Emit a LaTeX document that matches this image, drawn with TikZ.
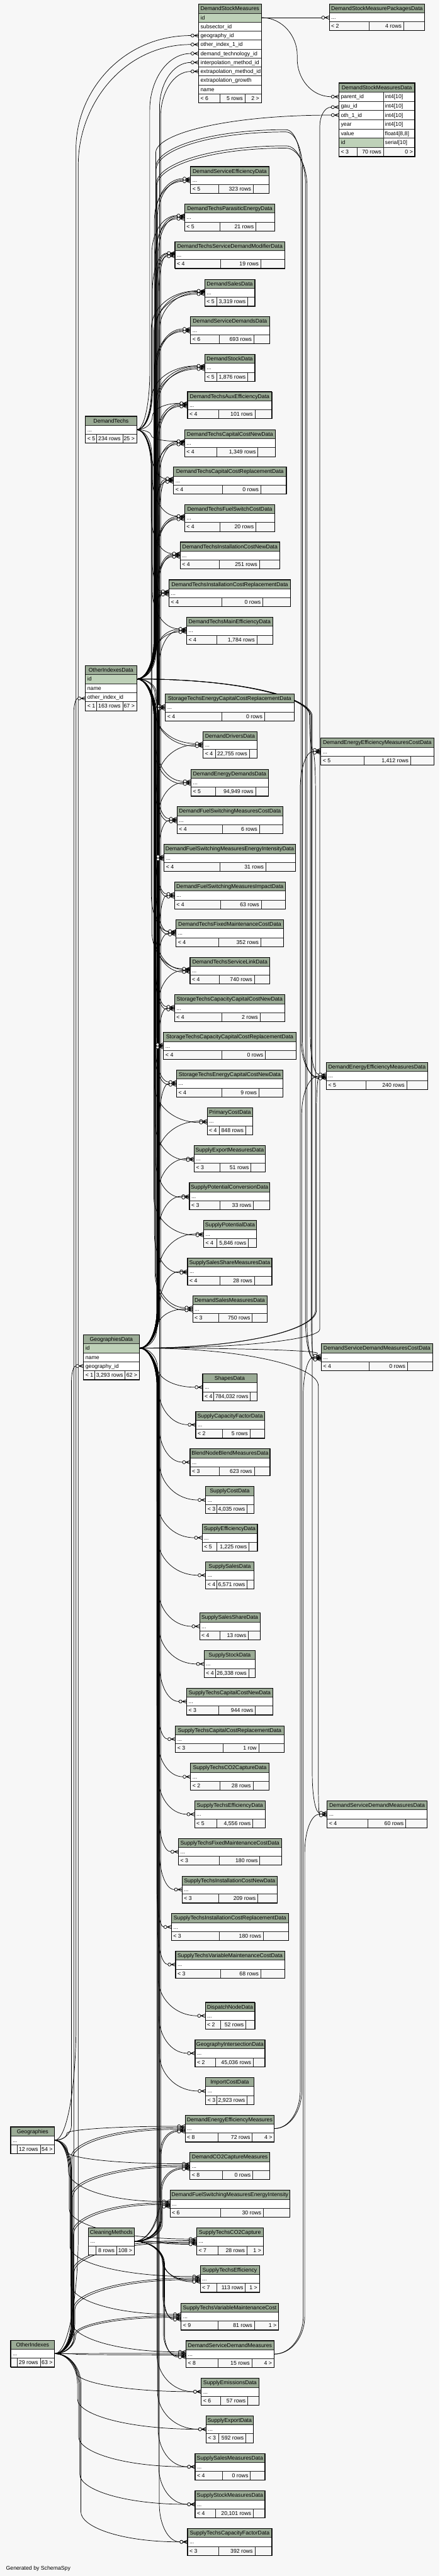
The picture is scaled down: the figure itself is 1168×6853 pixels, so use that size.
\documentclass[tikz,border=0pt]{standalone}
\usepackage{fontspec}
\setmainfont{Liberation Sans}
\definecolor{bgc}{HTML}{F7F7F7}
\definecolor{headc}{HTML}{9BAB96}
\definecolor{keyc}{HTML}{BED1B8}
\tikzset{
  fkline/.style={line width=0.6pt, black},
  cellbox/.style={draw=black!85, line width=0.45pt},
  tableframe/.style={draw=black, line width=0.7pt},
  focusframe/.style={draw=black, line width=1.3pt},
  celltext/.style={inner sep=0pt, font=\fontsize{7.3}{8.8}\selectfont},
}
\begin{document}
\begin{tikzpicture}[x=0.5pt,y=-0.5pt]

\fill[bgc] (0,0) rectangle (1168,6853);
\useasboundingbox (0,0) rectangle (1168,6853);

% spline from a parent port: out horizontally, along a bundle, in horizontally
\newcommand\fkline[7]{%
  \pgfmathsetmacro\fpx{#2}\pgfmathsetmacro\fpy{#3}\pgfmathsetmacro\fbx{#4}%
  \pgfmathsetmacro\fex{#5}\pgfmathsetmacro\fey{#6}%
  \pgfmathsetmacro\fsg{sign(\fey-\fpy)}%
  \pgfmathsetmacro\frr{min(abs(\fey-\fpy)/2,#7)}%
  \pgfmathsetmacro\fya{\fpy+(\fsg)*\frr}%
  \pgfmathsetmacro\fyb{\fey-(\fsg)*\frr}%
  \pgfmathsetmacro\fca{\fpx+0.6*(\fbx-\fpx)}%
  \pgfmathsetmacro\fcb{\fpy+0.5*(\fsg)*\frr}%
  \pgfmathsetmacro\fcc{\fyb+0.5*(\fsg)*\frr}%
  \pgfmathsetmacro\fcd{\fbx+0.4*(\fex-\fbx)}%
  \draw[fkline] (#1) .. controls (\fca,\fpy) and (\fbx,\fcb) .. (\fbx,\fya) -- (\fbx,\fyb) .. controls (\fbx,\fcc) and (\fcd,\fey) .. (\fex,\fey);
}
% zero-or-many end at a child table
\newcommand\fkmark[2]{%
  \pgfmathsetmacro\mxa{#1-16}\pgfmathsetmacro\mxb{#1-11.8}\pgfmathsetmacro\mxc{#1}%
  \pgfmathsetmacro\mya{#2}\pgfmathsetmacro\myb{#2-4.6}\pgfmathsetmacro\myc{#2+4.6}%
  \draw[fkline,fill=bgc] (\mxa,\mya) circle[radius=4.2];
  \draw[fkline] (\mxb,\mya) -- (\mxc,\myb) (\mxb,\mya) -- (\mxc,\mya) (\mxb,\mya) -- (\mxc,\myc);
}
\newcommand\fk[5]{%
  \fkline{#1}{\csname #1x\endcsname}{\csname #1y\endcsname}{#2}{#3-20.2}{#4}{#5}%
  \fkmark{#3}{#4}}

% table with collapsed columns
\newcommand\erdtable[9]{%
  \pgfmathsetmacro\tya{#5+23.85}\pgfmathsetmacro\tyb{#5+47.7}\pgfmathsetmacro\tyc{#5+71.55}%
  \pgfmathsetmacro\tmid{(#1+#4)/2}\pgfmathsetmacro\tla{#1+5}\pgfmathsetmacro\tlb{#3-5}\pgfmathsetmacro\tlc{#4-5}%
  \pgfmathsetmacro\tba{#5+17.1}\pgfmathsetmacro\tbb{\tya+17.1}\pgfmathsetmacro\tbc{\tyb+17.1}%
  \filldraw[cellbox,fill=headc] (#1,#5) rectangle (#4,\tya);
  \filldraw[cellbox,fill=white] (#1,\tya) rectangle (#4,\tyb);
  \filldraw[cellbox,fill=bgc] (#1,\tyb) rectangle (#2,\tyc);
  \filldraw[cellbox,fill=bgc] (#2,\tyb) rectangle (#3,\tyc);
  \filldraw[cellbox,fill=bgc] (#3,\tyb) rectangle (#4,\tyc);
  \draw[tableframe] (#1,#5) rectangle (#4,\tyc);
  \node[celltext,anchor=base] (#6) at (\tmid,\tba) {#6};
  \node[celltext,anchor=base west] (#6-cols) at (\tla,\tbb) {...};
  \node[celltext,anchor=base west] (#6-prev) at (\tla,\tbc) {#7};
  \node[celltext,anchor=base east] (#6-rows) at (\tlb,\tbc) {#8};
  \node[celltext,anchor=base east] (#6-next) at (\tlc,\tbc) {#9};
}

% parent ports
\def\DTx{363.2}\def\DTy{1143.3}
\def\ODx{363.2}\def\ODy{1806.3}
\def\GDx{370.1}\def\GDy{3586.3}
\def\GEx{145}\def\GEy{5693.8}
\def\OXx{145}\def\OXy{6261.4}
\def\CMx{356.8}\def\CMy{5962.4}
\def\DSMx{694.4}\def\DSMy{46.8}
\def\EEMx{729}\def\EEMy{5662.6}
\def\SDMx{728.1}\def\SDMy{6262.7}
\foreach \p in {DT,OD,GD,GE,OX,CM,DSM,EEM,SDM}
  \coordinate (\p) at (\csname\p x\endcsname,\csname\p y\endcsname);

% GeographiesData -> gau_id
\foreach \cx/\ct [count=\i] in {506.4/443, 490.6/542.7, 464.9/642.5, 544/743, 506.4/842.7, 544/942.4, 498.3/1042, 490.6/1143, 461.1/1242.4, 490.6/1342.2, 478.6/1441.9, 449.1/1542.4, 495.7/1642.1, 439.3/1846, 539.7/1945.7, 507.7/2046.2, 470.5/2146, 435.9/2246.4, 463.6/2346.2, 467.9/2446.7, 505.1/2546.4, 463.6/2646.2, 434.6/2746.6, 469.2/2846.4, 550.4/2946.8, 515.8/3046.6, 503.4/3146.4, 541/3246.8, 498.3/3346.6, 511.9/3446.5, 538.4/3654.6, 520/3754.4, 505.1/3854.1, 546.5/3954.6, 537.1/4055, 546.5/4154.8, 530.3/4290.7, 542.3/4390.8, 495.7/4490.7, 466.2/4590.8, 506.4/4690.9, 517/4790.7, 474.3/4890.4, 483.7/4990.9, 455.5/5090.6, 466.6/5190.4, 545.3/5326.8, 518.3/5426.5, 546.5/5527, 534.6/6326.8, 547.8/6426.7, 518.3/6526.6, 518.3/6626.5, 498.3/6726.4} {
  \fk{GD}{417+mod(\i,5)*1.6}{\cx}{\ct+35.8}{100}
}
% OtherIndexesData -> oth_1_id, oth_2_id
\foreach \cx/\ct [count=\i] in {506.4/443, 490.6/542.7, 464.9/642.5, 544/743, 506.4/842.7, 544/942.4, 498.3/1042, 490.6/1143, 461.1/1242.4, 490.6/1342.2, 478.6/1441.9, 449.1/1542.4, 495.7/1642.1, 439.3/1846, 539.7/1945.7, 507.7/2046.2, 470.5/2146, 435.9/2246.4, 463.6/2346.2, 467.9/2446.7, 505.1/2546.4, 463.6/2646.2, 434.6/2746.6, 469.2/2846.4, 550.4/2946.8, 515.8/3046.6, 503.4/3146.4, 541/3246.8, 498.3/3346.6, 511.9/3446.5} {
  \fk{OD}{409+mod(\i,4)*1.5}{\cx}{\ct+39.3}{100}
}
\foreach \cx/\ct [count=\i] in {506.4/443, 490.6/542.7, 464.9/642.5, 544/743, 506.4/842.7, 544/942.4, 498.3/1042, 490.6/1143, 461.1/1242.4, 490.6/1342.2, 478.6/1441.9, 449.1/1542.4, 495.7/1642.1, 439.3/1846, 539.7/1945.7, 507.7/2046.2, 470.5/2146, 435.9/2246.4, 463.6/2346.2, 467.9/2446.7, 505.1/2546.4, 463.6/2646.2, 434.6/2746.6, 469.2/2846.4, 511.9/3446.5} {
  \fk{OD}{412+mod(\i,3)*1.5}{\cx}{\ct+32.3}{100}
}
% DemandTechs -> parent_id
\foreach \cx/\ct [count=\i] in {490.6/542.7, 464.9/642.5, 544/743, 544/942.4, 498.3/1042, 490.6/1143, 461.1/1242.4, 490.6/1342.2, 478.6/1441.9, 449.1/1542.4, 495.7/1642.1, 467.9/2446.7, 505.1/2546.4} {
  \fk{DT}{402+mod(\i,3)*1.5}{\cx}{\ct+30.8}{100}
}
% measures: geography, other indexes, cleaning methods
\foreach \cx/\ct [count=\i] in {491.8/5626.8, 504.7/5726.5, 451.7/5826.7, 522.6/5926.6, 532/6026.5, 481.2/6127, 494.4/6226.9} {
  \fk{GE}{176+\i*2}{\cx}{\ct+29.8}{80}
  \fk{OX}{186+\i*2}{\cx}{\ct+33.8}{80}
  \fk{OX}{189+\i*2}{\cx}{\ct+37.8}{80}
  \fk{CM}{424+\i*1.5}{\cx}{\ct+40.8}{60}
  \fk{CM}{427+\i*1.5}{\cx}{\ct+43.8}{60}
}
\foreach \cx/\ct [count=\i] in {534.6/6326.8, 547.8/6426.7, 518.3/6526.6, 518.3/6626.5, 498.3/6726.4} {
  \fk{OX}{200+\i*3}{\cx}{\ct+35.8}{80}
}
% DemandStockMeasures and its parents
\fk{GE}{202}{527.7}{94.6}{300}
\fk{OX}{208}{527.7}{118.4}{320}
\fk{DT}{398}{527.7}{142.3}{150}
\fk{CM}{424}{527.7}{166.1}{120}
\fk{CM}{427}{527.7}{190}{120}
\fk{GE}{190}{221.8}{3634}{40}
\fk{OX}{196}{226.9}{1858}{40}
\fk{DSM}{780}{875}{46.8}{50}
\fk{DSM}{790}{900.7}{257.2}{100}
\fk{OD}{414}{900.7}{306.2}{100}
\fk{GD}{850}{900.7}{285}{50}
% right column
\fk{EEM}{798}{852.5}{1999.3}{100}
\fk{EEM}{802}{867.5}{2862.4}{100}
\fk{SDM}{806}{853.8}{3610.5}{100}
\fk{SDM}{810}{869.3}{4826.5}{100}
\foreach \cx/\cy [count=\i] in {852.5/1995.3, 867.5/2858.4, 853.8/3606.5, 869.3/4822.5} {
  \fk{OD}{820+\i*2.5}{\cx}{\cy}{100}
  \fk{GD}{836+\i*2.5}{\cx}{\cy+7}{100}
}
% over the top gap
\foreach \g/\bb/\cx/\cy [count=\i] in {345/800/867.5/2866, 351/804/867.5/2869, 388/812/853.8/3614, 394/816/853.8/3617} {
  \coordinate (gap\i) at (760,\g);
  \fkline{OD}{\ODx}{\ODy}{413+\i}{760}{\g}{100}
  \fkline{gap\i}{760}{\g}{\bb}{\cx-20.2}{\cy}{100}
  \fkmark{\cx}{\cy}
}

% tables with collapsed columns
\foreach \xa/\xb/\xc/\xd/\ty/\tn/\fa/\fb/\fc in {
506.4/580.7/673.0/714.9/443/DemandServiceEfficiencyData/{< 5}/{323 rows}/{},
490.6/585.0/679.9/730.7/542.7/DemandTechsParasiticEnergyData/{< 5}/{21 rows}/{},
464.9/586.7/693.1/757.2/642.5/DemandTechsServiceDemandModifierData/{< 4}/{19 rows}/{},
544.0/575.6/658.5/677.3/743/DemandSalesData/{< 5}/{3{,}319 rows}/{},
506.4/582.4/674.7/716.2/842.7/DemandServiceDemandsData/{< 6}/{693 rows}/{},
544.0/575.6/658.5/677.3/942.4/DemandStockData/{< 5}/{1{,}876 rows}/{},
498.3/580.7/677.3/722.6/1042/DemandTechsAuxEfficiencyData/{< 4}/{101 rows}/{},
490.6/576.0/685.4/732.0/1143/DemandTechsCapitalCostNewData/{< 4}/{1{,}349 rows}/{},
461.1/590.5/693.1/761.0/1242.4/DemandTechsCapitalCostReplacementData/{< 4}/{0 rows}/{},
490.6/585.0/679.9/730.7/1342.2/DemandTechsFuelSwitchCostData/{< 4}/{20 rows}/{},
478.6/582.4/689.3/744.0/1441.9/DemandTechsInstallationCostNewData/{< 4}/{251 rows}/{},
449.1/589.3/698.6/772.1/1542.4/DemandTechsInstallationCostReplacementData/{< 4}/{0 rows}/{},
495.7/576.0/682.4/725.1/1642.1/DemandTechsMainEfficiencyData/{< 4}/{1{,}784 rows}/{},
439.3/589.3/702.9/781.6/1846/StorageTechsEnergyCapitalCostReplacementData/{< 4}/{0 rows}/{},
539.7/572.2/662.3/682.8/1945.7/DemandDriversData/{< 4}/{22{,}755 rows}/{},
507.7/572.2/679.0/713.2/2046.2/DemandEnergyDemandsData/{< 5}/{94{,}949 rows}/{},
470.5/590.5/689.3/752.1/2146/DemandFuelSwitchingMeasuresCostData/{< 4}/{6 rows}/{},
435.9/585.0/706.3/785.0/2246.4/DemandFuelSwitchingMeasuresEnergyIntensityData/{< 4}/{31 rows}/{},
463.6/586.3/694.4/758.5/2346.2/DemandFuelSwitchingMeasuresImpactData/{< 4}/{63 rows}/{},
467.9/581.1/693.1/753.3/2446.7/DemandTechsFixedMaintenanceCostData/{< 4}/{352 rows}/{},
505.1/582.9/676.0/717.0/2546.4/DemandTechsServiceLinkData/{< 4}/{740 rows}/{},
463.6/589.3/691.0/757.2/2646.2/StorageTechsCapacityCapitalCostNewData/{< 4}/{2 rows}/{},
434.6/589.3/705.1/786.7/2746.6/StorageTechsCapacityCapitalCostReplacementData/{< 4}/{0 rows}/{},
469.2/589.3/688.0/752.1/2846.4/StorageTechsEnergyCapitalCostNewData/{< 4}/{9 rows}/{},
550.4/582.9/652.9/671.7/2946.8/PrimaryCostData/{< 4}/{848 rows}/{},
515.8/585.0/667.0/705.1/3046.6/SupplyExportMeasuresData/{< 3}/{51 rows}/{},
503.4/585.0/673.4/717.0/3146.4/SupplyPotentialConversionData/{< 3}/{33 rows}/{},
541.0/575.6/659.8/681.6/3246.8/SupplyPotentialData/{< 4}/{5{,}846 rows}/{},
498.3/585.0/676.0/722.6/3346.6/SupplySalesShareMeasuresData/{< 4}/{28 rows}/{},
511.9/581.1/670.5/709.3/3446.5/DemandSalesMeasuresData/{< 3}/{750 rows}/{},
538.4/567.9/665.3/682.8/3654.6/ShapesData/{< 4}/{784{,}032 rows}/{},
520.0/590.5/664.0/703.0/3754.4/SupplyCapacityFactorData/{< 2}/{5 rows}/{},
505.1/582.9/675.6/717.5/3854.1/BlendNodeBlendMeasuresData/{< 3}/{623 rows}/{},
546.5/575.6/656.8/674.7/3954.6/SupplyCostData/{< 3}/{4{,}035 rows}/{},
537.1/575.6/661.5/684.1/4055/SupplyEfficiencyData/{< 5}/{1{,}225 rows}/{},
546.5/575.6/656.8/674.7/4154.8/SupplySalesData/{< 4}/{6{,}571 rows}/{},
530.3/585.0/659.8/691.0/4290.7/SupplySalesShareData/{< 4}/{13 rows}/{},
542.3/572.2/661.0/678.6/4390.8/SupplyStockData/{< 4}/{26{,}338 rows}/{},
495.7/580.7/678.6/725.1/4490.7/SupplyTechsCapitalCostNewData/{< 3}/{944 rows}/{},
466.2/593.1/687.5/754.6/4590.8/SupplyTechsCapitalCostReplacementData/{< 3}/{1 row}/{},
506.4/585.0/672.2/714.9/4690.9/SupplyTechsCO2CaptureData/{< 2}/{28 rows}/{},
517.0/576.0/671.7/705.1/4790.7/SupplyTechsEfficiencyData/{< 5}/{4{,}556 rows}/{},
474.3/582.9/690.5/747.8/4890.4/SupplyTechsFixedMaintenanceCostData/{< 3}/{180 rows}/{},
483.7/580.7/685.0/737.1/4990.9/SupplyTechsInstallationCostNewData/{< 3}/{209 rows}/{},
455.5/582.9/699.9/767.0/5090.6/SupplyTechsInstallationCostReplacementData/{< 3}/{180 rows}/{},
466.6/586.3/693.1/756.3/5190.4/SupplyTechsVariableMaintenanceCostData/{< 3}/{68 rows}/{},
545.3/586.3/653.4/677.3/5326.8/DispatchNodeData/{< 2}/{52 rows}/{},
518.3/572.2/673.0/704.2/5426.5/GeographyIntersectionData/{< 2}/{45{,}036 rows}/{},
546.5/575.6/656.8/674.3/5527/ImportCostData/{< 3}/{2{,}923 rows}/{},
491.8/579.9/670.5/729.0/5626.8/DemandEnergyEfficiencyMeasures/{< 8}/{72 rows}/{4 >},
504.7/590.5/671.7/717.0/5726.5/DemandCO2CaptureMeasures/{< 8}/{0 rows}/{},
451.7/586.3/699.9/770.4/5826.7/DemandFuelSwitchingMeasuresEnergyIntensity/{< 6}/{30 rows}/{},
522.6/579.9/656.4/699.5/5926.6/SupplyTechsCO2Capture/{< 7}/{28 rows}/{1 >},
532.0/575.6/652.1/689.3/6026.5/SupplyTechsEfficiency/{< 7}/{113 rows}/{1 >},
481.2/579.9/676.0/740.1/6127/SupplyTechsVariableMaintenanceCost/{< 9}/{81 rows}/{1 >},
494.4/579.9/669.2/728.1/6226.9/DemandServiceDemandMeasures/{< 8}/{15 rows}/{4 >},
534.6/586.3/658.5/688.0/6326.8/SupplyEmissionsData/{< 6}/{57 rows}/{},
547.8/580.7/653.4/673.0/6426.7/SupplyExportData/{< 3}/{592 rows}/{},
518.3/590.5/665.3/704.2/6526.6/SupplySalesMeasuresData/{< 4}/{0 rows}/{},
518.3/572.2/673.0/704.2/6626.5/SupplyStockMeasuresData/{< 4}/{20{,}101 rows}/{},
498.3/580.7/677.3/722.6/6726.4/SupplyTechsCapacityFactorData/{< 3}/{392 rows}/{},
875.0/980.7/1072.7/1128.7/10/DemandStockMeasurePackagesData/{< 2}/{4 rows}/{},
852.5/967.3/1091.3/1152.7/1963.5/DemandEnergyEfficiencyMeasuresCostData/{< 5}/{1{,}412 rows}/{},
867.5/972.7/1080.7/1136.7/2826.6/DemandEnergyEfficiencyMeasuresData/{< 5}/{240 rows}/{},
853.8/980.7/1083.0/1150.0/3574.7/DemandServiceDemandMeasuresCostData/{< 4}/{0 rows}/{},
869.3/978.0/1078.3/1135.3/4790.7/DemandServiceDemandMeasuresData/{< 4}/{60 rows}/{},
226.9/256.4/326.0/363.2/1107.4/DemandTechs/{< 5}/{234 rows}/{25 >},
235.0/255.1/309.8/356.8/5926.6/CleaningMethods/{}/{8 rows}/{108 >},
28.3/45.7/106.7/145.0/5658/Geographies/{}/{12 rows}/{54 >},
28.3/45.7/106.7/145.0/6225.6/OtherIndexes/{}/{29 rows}/{63 >}}
{\erdtable{\xa}{\xb}{\xc}{\xd}{\ty}{\tn}{\fa}{\fb}{\fc}}

% DemandStockMeasures, all columns
\filldraw[cellbox,fill=headc] (527.7,11) rectangle (694.4,34.87);
\node[celltext,anchor=base] (DemandStockMeasures) at (611,28.1) {DemandStockMeasures};
\foreach \cn [count=\k] in {id,subsector\_id,geography\_id,other\_index\_1\_id,demand\_technology\_id,interpolation\_method\_id,extrapolation\_method\_id,extrapolation\_growth,name} {
  \pgfmathsetmacro\ra{11+\k*23.87}\pgfmathsetmacro\rb{\ra+23.87}\pgfmathsetmacro\rt{\ra+17.1}
  \ifnum\k=1 \def\rowfill{keyc}\else\def\rowfill{white}\fi
  \filldraw[cellbox,fill=\rowfill] (527.7,\ra) rectangle (694.4,\rb);
  \node[celltext,anchor=base west] (DSM-col\k) at (532.7,\rt) {\cn};
}
\filldraw[cellbox,fill=bgc] (527.7,249.7) rectangle (583.7,273.6) (583.7,249.7) rectangle (650.8,273.6) (650.8,249.7) rectangle (694.4,273.6);
\draw[tableframe] (527.7,11) rectangle (694.4,273.6);
\node[celltext,anchor=base west] (DSM-prev) at (532.7,266.8) {< 6};
\node[celltext,anchor=base east] (DSM-rows) at (645.8,266.8) {5 rows};
\node[celltext,anchor=base east] (DSM-next) at (689.4,266.8) {2 >};

% OtherIndexesData and GeographiesData
\foreach \xa/\xb/\xc/\xd/\ty/\tn/\cl/\fa/\fb/\fc in {
226.9/256.4/326.0/363.2/1770.5/OtherIndexesData/other\_index\_id/{< 1}/{163 rows}/{67 >},
221.8/251.3/332.5/370.1/3550.5/GeographiesData/geography\_id/{< 1}/{3{,}293 rows}/{62 >}} {
  \filldraw[cellbox,fill=headc] (\xa,\ty) rectangle (\xd,\ty+24);
  \node[celltext,anchor=base] (\tn) at ({(\xa+\xd)/2},\ty+17.1) {\tn};
  \foreach \cn [count=\k] in {id,name,\cl} {
    \pgfmathsetmacro\ra{\ty+\k*24}\pgfmathsetmacro\rb{\ra+24}\pgfmathsetmacro\rt{\ra+17.1}
    \ifnum\k=1 \def\rowfill{keyc}\else\def\rowfill{white}\fi
    \filldraw[cellbox,fill=\rowfill] (\xa,\ra) rectangle (\xd,\rb);
    \node[celltext,anchor=base west] (\tn-col\k) at (\xa+5,\rt) {\cn};
  }
  \filldraw[cellbox,fill=bgc] (\xa,\ty+96) rectangle (\xb,\ty+120) (\xb,\ty+96) rectangle (\xc,\ty+120) (\xc,\ty+96) rectangle (\xd,\ty+120);
  \draw[tableframe] (\xa,\ty) rectangle (\xd,\ty+120);
  \node[celltext,anchor=base west] (\tn-prev) at (\xa+5,\ty+113.1) {\fa};
  \node[celltext,anchor=base east] (\tn-rows) at (\xc-5,\ty+113.1) {\fb};
  \node[celltext,anchor=base east] (\tn-next) at (\xd-5,\ty+113.1) {\fc};
}

% DemandStockMeasuresData, the table in focus
\filldraw[cellbox,fill=headc] (900.7,220.5) rectangle (1102.7,244.97);
\node[celltext,anchor=base] (DemandStockMeasuresData) at (1001.7,237.6) {DemandStockMeasuresData};
\foreach \cn/\ct [count=\k] in {parent\_id/int4[10],gau\_id/int4[10],oth\_1\_id/int4[10],year/int4[10],value/float4[8{,}8],id/serial[10]} {
  \pgfmathsetmacro\ra{220.5+\k*24.47}\pgfmathsetmacro\rb{\ra+24.47}\pgfmathsetmacro\rt{\ra+17.4}
  \ifnum\k=6 \def\rowfill{keyc}\else\def\rowfill{white}\fi
  \filldraw[cellbox,fill=\rowfill] (900.7,\ra) rectangle (1019,\rb);
  \filldraw[cellbox,fill=white] (1019,\ra) rectangle (1102.7,\rb);
  \node[celltext,anchor=base west] (DSMD-col\k) at (905.7,\rt) {\cn};
  \node[celltext,anchor=base west] (DSMD-type\k) at (1023,\rt) {\ct};
}
\filldraw[cellbox,fill=bgc] (900.7,391.8) rectangle (949.3,416.3) (949.3,391.8) rectangle (1019,416.3) (1019,391.8) rectangle (1102.7,416.3);
\draw[focusframe] (900.7,220.5) rectangle (1102.7,416.3);
\node[celltext,anchor=base west] (DSMD-prev) at (905.7,409.2) {< 3};
\node[celltext,anchor=base east] (DSMD-rows) at (1014,409.2) {70 rows};
\node[celltext,anchor=base east] (DSMD-next) at (1097.7,409.2) {0 >};

\node[celltext,anchor=base] (credit) at (101.7,6837) {Generated by SchemaSpy};

\end{tikzpicture}
\end{document}
